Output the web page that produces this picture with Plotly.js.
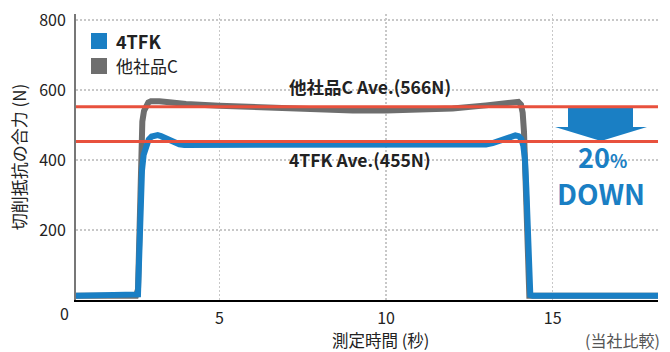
<!DOCTYPE html>
<html>
<head>
<meta charset="utf-8">
<script src="https://cdn.plot.ly/plotly-3.0.1.min.js"></script>
<style>html,body{margin:0;padding:0;background:#fff;}#chart{width:670px;height:352px;}</style>
</head>
<body>
<div id="chart"></div>
<script>
// ---- data ----
const seriesNames = ['4TFK', '他社品C'];
const tfkTime = [0.7, 2.5, 2.56, 2.585, 2.61, 2.64, 2.68, 2.73, 2.8, 2.88, 2.97, 3.06, 3.15, 3.25, 3.37, 3.5, 3.65, 3.8, 3.95, 4.2, 5, 6, 7, 8, 9, 10, 11, 12, 12.8, 13.0, 13.2, 13.4, 13.6, 13.75, 13.88, 13.98, 14.06, 14.12, 14.17, 14.21, 14.25, 14.28, 14.3, 14.33, 14.4, 18.16];
const tfkForce = [12, 12, 16, 90, 200, 300, 370, 415, 442, 458, 467, 471, 471, 468, 463, 456, 449, 445, 443, 443, 443, 443, 443, 443, 443, 443, 443, 443, 443, 444, 448, 455, 463, 468, 470, 468, 460, 440, 400, 320, 200, 90, 30, 14, 12, 12];
const otherTime = [0.7, 2.5, 2.56, 2.59, 2.62, 2.65, 2.69, 2.74, 2.8, 2.87, 2.95, 3.05, 3.2, 3.5, 4, 5, 6, 7, 8, 9, 10, 11, 12, 13, 13.6, 13.85, 13.97, 14.05, 14.1, 14.14, 14.17, 14.2, 14.23, 14.26, 14.3, 18.16];
const otherForce = [12, 12, 30, 180, 343, 450, 510, 540, 556, 564, 568, 569, 568, 565, 560, 555, 551, 546, 543, 541, 541, 543, 547, 556, 563, 567, 566, 558, 535, 480, 400, 280, 140, 40, 12, 12];
const avgNames = ['他社品C Ave.(566N)', '4TFK Ave.(455N)'];
const avgLevel = [552, 453];
const avgSpan = [0.7, 18.16];
const xTicks = [5, 10, 15];
const yTicks = [200, 400, 600, 800];

const BLUE = '#1a7fc4', GRAY = '#6e6e6e', RED = '#e8513d';
const FONT = '"Noto Sans CJK JP", "Noto Sans", sans-serif';
const TXT = '#222';

function px(x){ return (x - 76) / 582; }
function py(y){ return (300 - y) / 286; }

const traces = [
  {x: otherTime, y: otherForce, mode: 'lines', name: seriesNames[1], line: {color: GRAY, width: 6}, hoverinfo: 'skip'},
  {x: tfkTime, y: tfkForce, mode: 'lines', name: seriesNames[0], line: {color: BLUE, width: 6}, hoverinfo: 'skip'},
];
avgLevel.forEach(function(v){
  traces.push({x: avgSpan, y: [v, v], mode: 'lines', line: {color: RED, width: 3}, hoverinfo: 'skip'});
});

const annotations = [
  {text: '0', xref: 'paper', yref: 'paper', x: px(64), y: py(313), showarrow: false, xanchor: 'center', yanchor: 'middle', font: {family: FONT, size: 16, color: TXT}},
  {text: '測定時間 (秒)', xref: 'paper', yref: 'paper', x: px(380), y: py(340), showarrow: false, xanchor: 'center', yanchor: 'middle', font: {family: FONT, size: 16.5, color: TXT}},
  {text: '(当社比較)', xref: 'paper', yref: 'paper', x: px(622), y: py(340), showarrow: false, xanchor: 'center', yanchor: 'middle', font: {family: FONT, size: 16, color: '#555'}},
  {text: '<b>' + avgNames[0] + '</b>', xref: 'paper', yref: 'paper', x: px(370), y: py(87), showarrow: false, xanchor: 'center', yanchor: 'middle', font: {family: FONT, size: 17.5, color: TXT}},
  {text: '<b>' + avgNames[1] + '</b>', xref: 'paper', yref: 'paper', x: px(360), y: py(160), showarrow: false, xanchor: 'center', yanchor: 'middle', font: {family: FONT, size: 17.5, color: TXT}},
  {text: '<b>' + seriesNames[0] + '</b>', xref: 'paper', yref: 'paper', x: px(114), y: py(41), showarrow: false, xanchor: 'left', yanchor: 'middle', font: {family: FONT, size: 18, color: TXT}},
  {text: seriesNames[1], xref: 'paper', yref: 'paper', x: px(114), y: py(66), showarrow: false, xanchor: 'left', yanchor: 'middle', font: {family: FONT, size: 17, color: TXT}},
  {text: '<b>20<span style="font-size:18px">%</span></b>', xref: 'paper', yref: 'paper', x: px(602), y: py(156), showarrow: false, xanchor: 'center', yanchor: 'middle', font: {family: FONT, size: 27, color: BLUE}},
  {text: '<b>DOWN</b>', xref: 'paper', yref: 'paper', x: px(601), y: py(193), showarrow: false, xanchor: 'center', yanchor: 'middle', font: {family: FONT, size: 28, color: BLUE}},
];

const arrowPath = 'M ' + px(568) + ' ' + py(106) + ' L ' + px(633) + ' ' + py(106) + ' L ' + px(633) + ' ' + py(127) +
  ' L ' + px(647) + ' ' + py(127) + ' L ' + px(601) + ' ' + py(141) + ' L ' + px(555) + ' ' + py(127) +
  ' L ' + px(568) + ' ' + py(127) + ' Z';

const shapes = [
  {type: 'rect', xref: 'paper', yref: 'paper', x0: px(91), x1: px(107), y0: py(33), y1: py(49), fillcolor: BLUE, line: {width: 0}},
  {type: 'rect', xref: 'paper', yref: 'paper', x0: px(91), x1: px(107), y0: py(58), y1: py(74), fillcolor: GRAY, line: {width: 0}},
  {type: 'path', xref: 'paper', yref: 'paper', path: arrowPath, fillcolor: BLUE, line: {width: 0}, layer: 'below'},
];

const layout = {
  width: 670, height: 352,
  margin: {l: 76, r: 12, t: 14, b: 52},
  paper_bgcolor: '#fff', plot_bgcolor: '#fff',
  showlegend: false,
  font: {family: FONT, color: TXT, size: 16},
  xaxis: {
    range: [0.7, 18.16], tickvals: xTicks, ticktext: xTicks.map(String),
    showgrid: true, gridcolor: '#c8c8c8', gridwidth: 1.5, griddash: '2px,2px',
    zeroline: false, showline: true, linecolor: '#000', linewidth: 1.5,
    ticks: 'outside', ticklen: 3, tickcolor: 'rgba(0,0,0,0)',
    tickfont: {family: FONT, size: 16, color: TXT}, fixedrange: true
  },
  yaxis: {
    range: [0, 817], tickvals: yTicks, ticktext: yTicks.map(String),
    showgrid: true, gridcolor: '#c8c8c8', gridwidth: 1.5, griddash: '2px,2px',
    zeroline: false, showline: true, linecolor: '#777', linewidth: 2,
    ticks: 'outside', ticklen: 5, tickcolor: 'rgba(0,0,0,0)',
    tickfont: {family: FONT, size: 16, color: TXT},
    title: {text: '切削抵抗の合力 (N)', font: {family: FONT, size: 17, color: TXT}, standoff: 8},
    fixedrange: true
  },
  annotations: annotations,
  shapes: shapes
};

Plotly.newPlot('chart', traces, layout, {displayModeBar: false, staticPlot: true});
</script>
</body>
</html>
